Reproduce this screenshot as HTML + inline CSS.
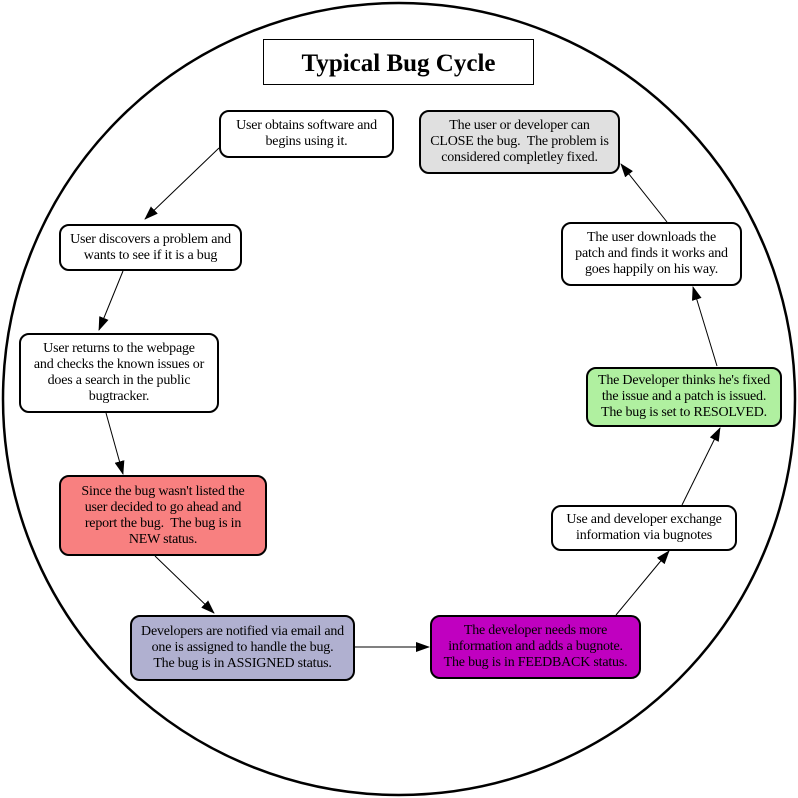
<!DOCTYPE html>
<html><head><meta charset="utf-8"><style>
body{margin:0;width:798px;height:798px;background:#fff;overflow:hidden}
svg{position:absolute;left:0;top:0}
.b{position:absolute;border:2px solid #000;border-radius:10px;box-sizing:border-box;display:flex;align-items:center;justify-content:center;text-align:center;font:14px/16px "Liberation Serif",serif;color:#000;white-space:nowrap;letter-spacing:-0.2px}
</style></head><body>
<svg width="798" height="798">
<defs><marker id="a" markerWidth="14" markerHeight="10" refX="13" refY="5" orient="auto" markerUnits="userSpaceOnUse"><path d="M0,0L14,5L0,10z" fill="#000"/></marker></defs>
<circle cx="399" cy="399" r="396" fill="none" stroke="#000" stroke-width="2.5"/>
<g stroke="#000" stroke-width="1" marker-end="url(#a)">
<line x1="219" y1="148" x2="145" y2="219"/>
<line x1="123" y1="271" x2="99" y2="330"/>
<line x1="106" y1="413" x2="123" y2="474"/>
<line x1="155" y1="556" x2="214" y2="613"/>
<line x1="354" y1="647" x2="429" y2="647"/>
<line x1="616" y1="615" x2="669" y2="551"/>
<line x1="682" y1="505" x2="720" y2="428"/>
<line x1="717" y1="366" x2="693" y2="287"/>
<line x1="667" y1="222" x2="621" y2="164"/>
</g>
</svg>
<div class="b" style="left:263px;top:39px;width:271px;height:46px;border-width:1px;border-radius:0;font:bold 25px 'Liberation Serif',serif;padding-top:4px;letter-spacing:0">Typical Bug Cycle</div>
<div class="b" style="left:219px;top:110px;width:175px;height:48px">User obtains software and<br>begins using it.</div>
<div class="b" style="left:59px;top:224px;width:183px;height:47px">User discovers a problem and<br>wants to see if it is a bug</div>
<div class="b" style="left:19px;top:333px;width:200px;height:80px">User returns to the webpage<br>and checks the known issues or<br>does a search in the public<br>bugtracker.</div>
<div class="b" style="left:59px;top:475px;width:208px;height:81px;background:#f88080">Since the bug wasn't listed the<br>user decided to go ahead and<br>report the bug.&nbsp; The bug is in<br>NEW status.</div>
<div class="b" style="left:130px;top:615px;width:225px;height:66px;background:#b0b0d0">Developers are notified via email and<br>one is assigned to handle the bug.<br>The bug is in ASSIGNED status.</div>
<div class="b" style="left:430px;top:615px;width:211px;height:64px;background:#c000c0">The developer needs more<br>information and adds a bugnote.<br>The bug is in FEEDBACK status.</div>
<div class="b" style="left:551px;top:505px;width:186px;height:46px">Use and developer exchange<br>information via bugnotes</div>
<div class="b" style="left:586px;top:367px;width:196px;height:60px;background:#b0f0a0">The Developer thinks he's fixed<br>the issue and a patch is issued.<br>The bug is set to RESOLVED.</div>
<div class="b" style="left:561px;top:222px;width:181px;height:64px">The user downloads the<br>patch and finds it works and<br>goes happily on his way.</div>
<div class="b" style="left:419px;top:110px;width:201px;height:64px;background:#e0e0e0">The user or developer can<br>CLOSE the bug.&nbsp; The problem is<br>considered completley fixed.</div>
</body></html>
